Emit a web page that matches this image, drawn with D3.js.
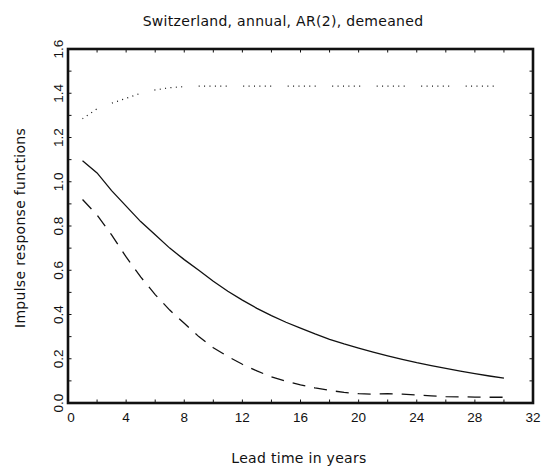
<!DOCTYPE html>
<html lang="en">
  <head>
    <meta charset="UTF-8" />
    <title>Impulse responses</title>
    <style>
      body { margin: 0; background: #fff; }
      text { font-family: 'DejaVu Sans', sans-serif; fill: #111; }
      .tick-label { font-family: 'Liberation Sans', Arial, sans-serif; }
    </style>
  </head>
  <body>
    <script src="https://d3js.org/d3.v7.min.js"></script>
    <script>
      const years = d3.range(1, 31);
      const solidValues = [
        1.095, 1.04, 0.96, 0.89, 0.82, 0.76, 0.70, 0.648, 0.60, 0.55,
        0.505, 0.465, 0.428, 0.395, 0.365, 0.338, 0.312, 0.288, 0.267, 0.248,
        0.230, 0.213, 0.197, 0.182, 0.169, 0.156, 0.144, 0.133, 0.122, 0.112,
      ];
      const dashedValues = [
        0.92, 0.85, 0.76, 0.66, 0.57, 0.49, 0.42, 0.36, 0.30, 0.25,
        0.21, 0.175, 0.145, 0.118, 0.098, 0.082, 0.068, 0.057, 0.048, 0.042,
        0.040, 0.042, 0.040, 0.036, 0.032, 0.029, 0.028, 0.027, 0.026, 0.026,
      ];
      const dottedValues = [
        1.285, 1.33, 1.355, 1.377, 1.40, 1.415, 1.425, 1.43, 1.432, 1.432,
        1.432, 1.432, 1.432, 1.432, 1.432, 1.432, 1.432, 1.432, 1.432, 1.432,
        1.432, 1.432, 1.432, 1.432, 1.432, 1.432, 1.432, 1.432, 1.432, 1.432,
      ];
      const xTickLabels = [0, 4, 8, 12, 16, 20, 24, 28, 32];
      const yTickLabels = [0.0, 0.2, 0.4, 0.6, 0.8, 1.0, 1.2, 1.4, 1.6];

      function makeChart() {
        const width = 545;
        const height = 468;
        const margin = { top: 49, right: 12, bottom: 65, left: 68 };

        const svg = d3
          .select('body')
          .append('svg')
          .attr('width', width)
          .attr('height', height);

        const x = d3.scaleLinear().domain([0, 32]).range([margin.left, width - margin.right]);
        const y = d3.scaleLinear().domain([0, 1.6]).range([height - margin.bottom, margin.top]);

        const tickLen = 3.5;
        const ticks = svg.append('g').attr('stroke', '#111').attr('stroke-width', 1);

        // x ticks every 2, inside, bottom and top
        d3.range(2, 32, 2).forEach((v) => {
          ticks.append('line').attr('x1', x(v)).attr('x2', x(v))
            .attr('y1', y(0)).attr('y2', y(0) - tickLen);
          ticks.append('line').attr('x1', x(v)).attr('x2', x(v))
            .attr('y1', y(1.6)).attr('y2', y(1.6) + tickLen);
        });
        // y ticks every 0.1, inside, left and right
        d3.range(1, 16).forEach((i) => {
          const v = i / 10;
          ticks.append('line').attr('y1', y(v)).attr('y2', y(v))
            .attr('x1', x(0)).attr('x2', x(0) + tickLen);
          ticks.append('line').attr('y1', y(v)).attr('y2', y(v))
            .attr('x1', x(32)).attr('x2', x(32) - tickLen);
        });

        // frame
        svg.append('rect')
          .attr('x', x(0)).attr('y', y(1.6))
          .attr('width', x(32) - x(0)).attr('height', y(0) - y(1.6))
          .attr('fill', 'none').attr('stroke', '#111').attr('stroke-width', 2.6);

        // tick labels
        svg.append('g').attr('font-size', 13.5).attr('text-anchor', 'middle')
          .selectAll('text').data(xTickLabels).join('text')
          .attr('class', 'tick-label')
          .attr('x', (d) => x(d) + (d === 0 ? 3 : 0))
          .attr('y', y(0) + 19)
          .text((d) => d);

        svg.append('g').attr('font-size', 13.5).attr('text-anchor', 'middle')
          .selectAll('text').data(yTickLabels).join('text')
          .attr('class', 'tick-label')
          .attr('transform', (d) => `translate(${x(0) - 5},${y(d)}) rotate(-90)`)
          .text((d) => d.toFixed(1));

        // lines
        const line = d3.line().x((d) => x(d[0])).y((d) => y(d[1]));

        svg.append('path')
          .datum(years.map((t, i) => [t, solidValues[i]]))
          .attr('d', line).attr('fill', 'none')
          .attr('stroke', '#111').attr('stroke-width', 1.3);

        svg.append('path')
          .datum(years.map((t, i) => [t, dashedValues[i]]))
          .attr('d', line).attr('fill', 'none')
          .attr('stroke', '#111').attr('stroke-width', 1.3)
          .attr('stroke-dasharray', '13,9');

        svg.append('path')
          .datum(years.map((t, i) => [t, dottedValues[i]]))
          .attr('d', line).attr('fill', 'none')
          .attr('stroke', '#111').attr('stroke-width', 1.2)
          .attr('stroke-dasharray', '1,4.4,1,4.4,1,4.4,1,4.4,1,4.4,1,16.5')
          .attr('stroke-dashoffset', 11);

        // titles
        svg.append('text')
          .attr('x', 283).attr('y', 26)
          .attr('text-anchor', 'middle').attr('font-size', 14)
          .attr('letter-spacing', 0.3)
          .text('Switzerland, annual, AR(2), demeaned');

        svg.append('text')
          .attr('x', 299).attr('y', 463)
          .attr('text-anchor', 'middle').attr('font-size', 14)
          .attr('letter-spacing', 0.3)
          .text('Lead time in years');

        svg.append('text')
          .attr('transform', `translate(25,${(y(0) + y(1.6)) / 2 + 2}) rotate(-90)`)
          .attr('text-anchor', 'middle').attr('font-size', 14)
          .attr('letter-spacing', 0.3)
          .text('Impulse response functions');
      }
      makeChart();
    </script>
  </body>
</html>
